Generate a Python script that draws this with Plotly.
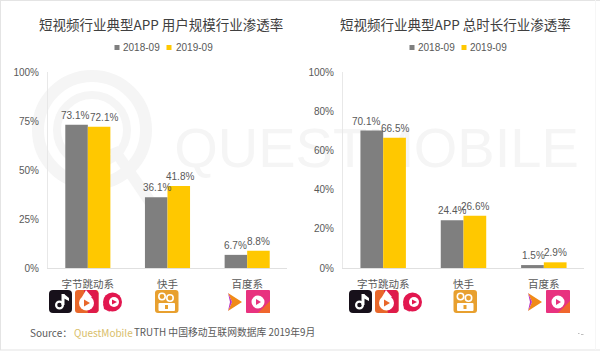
import plotly.graph_objects as go

W, H = 600, 352
categories = ["字节跳动系", "快手", "百度系"]
series_names = ["2018-09", "2019-09"]
users_2018 = [73.1, 36.1, 6.7]
users_2019 = [72.1, 41.8, 8.8]
time_2018 = [70.1, 24.4, 1.5]
time_2019 = [66.5, 26.6, 2.9]
colors = ["#7F7F7F", "#FFC800"]
TXT = "#595959"
SANS = "Liberation Sans, Arial, sans-serif"
CJK = "Noto Sans CJK SC, sans-serif"
WM = "#F5F5F5"
# sideways nudges of the value labels, as in the reference (pixels)
nudge_users = [[-2, 0.5, 0], [5, 1, 0]]
nudge_time = [[-6, -0.5, 1], [0.5, 0.5, 0.5]]


def px(x):
    return x / W


def py(y):
    return 1 - y / H


def bars(name, vals, color, xa, ya):
    return go.Bar(x=categories, y=vals, name=name, marker=dict(color=color, line=dict(width=0)),
                  xaxis=xa, yaxis=ya, showlegend=False, hoverinfo="skip")


fig = go.Figure()
# watermark word sits in the first subplot so that the bars are painted over it
fig.add_trace(go.Scatter(x=[376.5], y=[153], mode="text", text=["QUESTMOBILE"], xaxis="x", yaxis="y",
                         textposition="middle center", showlegend=False, hoverinfo="skip",
                         textfont=dict(family=SANS, size=56, color=WM)))
for name, vals, c in zip(series_names, [users_2018, users_2019], colors):
    fig.add_trace(bars(name, vals, c, "x2", "y2"))
for name, vals, c in zip(series_names, [time_2018, time_2019], colors):
    fig.add_trace(bars(name, vals, c, "x3", "y3"))

shapes = []


def rect(x0, y0, x1, y1, fill, radius=0):
    r = radius
    path = (f"M{px(x0+r)},{py(y0)} L{px(x1-r)},{py(y0)} Q{px(x1)},{py(y0)} {px(x1)},{py(y0+r)} "
            f"L{px(x1)},{py(y1-r)} Q{px(x1)},{py(y1)} {px(x1-r)},{py(y1)} L{px(x0+r)},{py(y1)} "
            f"Q{px(x0)},{py(y1)} {px(x0)},{py(y1-r)} L{px(x0)},{py(y0+r)} Q{px(x0)},{py(y0)} {px(x0+r)},{py(y0)} Z")
    shapes.append(dict(type="path", path=path, xref="paper", yref="paper", fillcolor=fill, line_width=0, layer="above"))


def circle(cx, cy, r, fill=None, line=None, lw=0, layer="above"):
    shapes.append(dict(type="circle", xref="paper", yref="paper", x0=px(cx-r), x1=px(cx+r),
                       y0=py(cy+r), y1=py(cy-r), fillcolor=fill or "rgba(0,0,0,0)",
                       line=dict(color=line or "rgba(0,0,0,0)", width=lw), layer=layer))


def poly(pts, fill, layer="above"):
    path = "M" + " L".join(f"{px(a)},{py(b)}" for a, b in pts) + " Z"
    shapes.append(dict(type="path", path=path, xref="paper", yref="paper", fillcolor=fill, line_width=0, layer=layer))


# frame
for x0, y0, x1, y1, c in [(0, 0, 600, 1, "#E4E4E4"), (0, 349.5, 600, 350.5, "#E4E4E4"),
                          (0, 0, 1, 350, "#E4E4E4"), (595, 0, 596, 350, "#F6F6F6")]:
    shapes.append(dict(type="rect", xref="paper", yref="paper", x0=px(x0), x1=px(x1), y0=py(y1), y1=py(y0),
                       fillcolor=c, line_width=0, layer="below"))

# watermark rings
circle(92, 130, 54, line=WM, lw=12, layer="below")
circle(92, 130, 35, line=WM, lw=8, layer="below")
poly([(108, 150), (118, 146), (156, 200), (146, 206)], WM, layer="below")


def icons(off):
    # tiktok
    rect(49+off, 290, 72+off, 313, "#17101A", 4)
    circle(59.5+off, 305, 3.4, line="#FFFFFF", lw=2.2)
    poly([(61.5+off, 294), (64.5+off, 294), (64.5+off, 305), (61.5+off, 305)], "#FFFFFF")
    poly([(64+off, 294), (69+off, 298), (69+off, 301), (64+off, 298.5)], "#FFFFFF")
    # huoshan
    rect(75+off, 290, 98.5+off, 313, "#E8672A", 3)
    poly([(84+off, 290), (96+off, 290), (98.5+off, 293), (98.5+off, 311), (96+off, 313), (88+off, 313)], "#DE1B4A")
    circle(86.5+off, 303, 7.5, fill="#FFFFFF")
    poly([(86+off, 290), (92+off, 297), (82+off, 297)], "#FFFFFF")
    poly([(84+off, 299.5), (90+off, 303), (84+off, 306.5)], "#E8672A")
    # xigua
    circle(112.5+off, 302, 9.5, fill="#E2174F")
    poly([(103+off, 303), (110+off, 312), (104+off, 309)], "#E2174F")
    circle(114+off, 302, 5, fill="#FFFFFF")
    poly([(112+off, 299.5), (117+off, 302), (112+off, 304.5)], "#E2174F")


def kuaishou(x):
    rect(x, 290, x+23.5, 313, "#E8A02F", 3)
    circle(x+7, 296.5, 3.2, line="#FFFFFF", lw=1.6)
    circle(x+15, 298, 3.2, line="#FFFFFF", lw=1.6)
    rect(x+3.5, 303, x+20, 311, "#FFFFFF", 1)
    rect(x+10, 305, x+13, 309, "#E8A02F", 0)


def baidu(off):
    poly([(228+off, 293), (242+off, 302), (228+off, 311), (232+off, 302)], "#F08A18")
    poly([(228+off, 293), (232+off, 302), (228+off, 311), (230+off, 302)], "#B92FC4")
    rect(246+off, 290, 270+off, 313, "#E8327F", 1)
    poly([(258+off, 313), (270+off, 313), (270+off, 301)], "#F0662E")
    circle(258+off, 302, 6.5, fill="#FFFFFF")
    poly([(256+off, 299), (261+off, 302), (256+off, 305)], "#E8327F")


icons(0)
icons(300)
kuaishou(155)
kuaishou(453.5)
baidu(0)
baidu(300)

# stray mark at lower right
rect(578, 333, 579.5, 334, "#BDBDBD")
rect(581, 334, 583.5, 335, "#BDBDBD")

# legend keys
for x, c in [(114.5, colors[0]), (166.5, colors[1]), (409.5, colors[0]), (461.5, colors[1])]:
    rect(x, 45, x+5, 50, c)

ann = [
    dict(text="短视频行业典型APP 用户规模行业渗透率", x=px(161), y=py(24), font=dict(family=CJK, size=13.5, color="#404040")),
    dict(text="短视频行业典型APP 总时长行业渗透率", x=px(455), y=py(24), font=dict(family=CJK, size=13.5, color="#404040")),
    dict(text="Source：", x=px(28), y=py(332), xanchor="left", font=dict(family=CJK, size=10, color=TXT)),
    dict(text="QuestMobile", x=px(72), y=py(332), xanchor="left", font=dict(family=CJK, size=10, color="#D9BE6A")),
    dict(text="TRUTH 中国移动互联网数据库 2019年9月", x=px(132), y=py(332), xanchor="left", font=dict(family=CJK, size=9.8, color=TXT)),
]
for x, t in [(121, series_names[0]), (173.5, series_names[1]), (416, series_names[0]), (468, series_names[1])]:
    ann.append(dict(text=t, x=px(x), y=py(47.5), xanchor="left", font=dict(family=SANS, size=10, color=TXT)))
for a in ann:
    a.setdefault("xanchor", "center")
    a.update(xref="paper", yref="paper", yanchor="middle", showarrow=False)

# value labels, anchored to the data through the axes
BAR_PX = 11.25
for series, nudges, xr, yr in [((users_2018, users_2019), nudge_users, "x2", "y2"),
                               ((time_2018, time_2019), nudge_time, "x3", "y3")]:
    for s, vals in enumerate(series):
        for cat, v, n in zip(categories, vals, nudges[s]):
            ann.append(dict(text=f"{v:.1f}%", x=cat, y=v, xref=xr, yref=yr, showarrow=False,
                            xanchor="center", yanchor="middle", yshift=9.5,
                            xshift=(-BAR_PX if s == 0 else BAR_PX) + n,
                            font=dict(family=SANS, size=10, color=TXT)))


def xaxis(d0, d1, anchor):
    return dict(domain=[px(d0), px(d1)], showline=True, linecolor="#E0E0E0", linewidth=1, ticks="", anchor=anchor,
                automargin=False, tickfont=dict(family=CJK, size=10.5, color=TXT), showgrid=False,
                fixedrange=True, ticklabelstandoff=6)


def yaxis(dt, anchor):
    return dict(domain=[py(268), py(72)], range=[0, 100], dtick=dt, ticksuffix="%", showgrid=False,
                showline=True, linecolor="#E8E8E8", linewidth=1, zeroline=False, anchor=anchor, automargin=False,
                tickfont=dict(family=SANS, size=10, color=TXT), ticks="", fixedrange=True, ticklabelstandoff=6)


fig.update_layout(
    width=W, height=H, margin=dict(l=0, r=0, t=0, b=0, pad=0), autosize=False, showlegend=False,
    paper_bgcolor="#FFFFFF", plot_bgcolor="rgba(0,0,0,0)",
    barmode="group", bargap=0.434, bargroupgap=0,
    xaxis=dict(domain=[0, 1], range=[0, W], visible=False, fixedrange=True, automargin=False),
    yaxis=dict(domain=[0, 1], range=[H, 0], visible=False, fixedrange=True, automargin=False),
    xaxis2=xaxis(48, 287, "y2"), yaxis2=yaxis(25, "x2"),
    xaxis3=xaxis(343, 584, "y3"), yaxis3=yaxis(20, "x3"),
    shapes=shapes, annotations=ann,
)
fig.write_html("out.html", config={"displayModeBar": False},
               post_script="document.body.style.margin='0';document.body.style.overflow='hidden';")
